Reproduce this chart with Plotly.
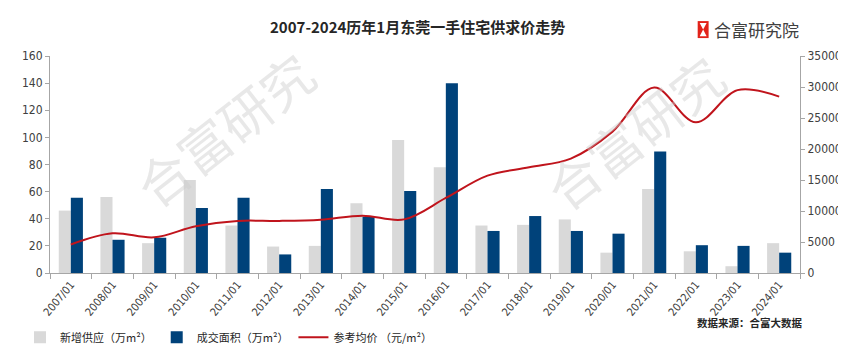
import plotly.graph_objects as go

years = ["2007/01", "2008/01", "2009/01", "2010/01", "2011/01", "2012/01", "2013/01", "2014/01", "2015/01",
         "2016/01", "2017/01", "2018/01", "2019/01", "2020/01", "2021/01", "2022/01", "2023/01", "2024/01"]
supply = [46, 56, 22, 68.5, 35, 19.5, 20, 51.5, 98, 78, 35, 35.5, 39.5, 15, 62, 16, 5, 22]
deal = [55.5, 24.5, 26, 48, 55.5, 13.7, 62, 41.5, 60.5, 140, 31, 42, 31, 29, 89.5, 20.5, 20, 15]
price = [4600, 6400, 5750, 7550, 8400, 8400, 8600, 9250, 8650, 12100, 15700, 17050, 18450, 22800, 29900,
         24300, 29500, 28450]

FONT = "Noto Sans CJK SC, Noto Sans, sans-serif"
NUMFONT = "DejaVu Sans Condensed, sans-serif"
AX = "#a6a6a6"

fig = go.Figure()
fig.add_trace(go.Bar(x=years, y=supply, name="新增供应（万m²）", marker_color="#d9d9d9",
                     marker_line_width=0))
fig.add_trace(go.Bar(x=years, y=deal, name="成交面积（万m²）", marker_color="#00427a",
                     marker_line_width=0))
fig.add_trace(go.Scatter(x=years, y=price, name="参考均价 （元/m²）", yaxis="y2", mode="lines",
                         line=dict(color="#c0141c", width=2, shape="spline", smoothing=1.0)))

fig.update_layout(
    width=846, height=356,
    margin=dict(l=40, r=51, t=48, b=78),
    paper_bgcolor="white", plot_bgcolor="white",
    font=dict(family=FONT, size=11, color="#404040"),
    barmode="group", bargap=0.42, bargroupgap=0,
    showlegend=True,
    legend=dict(orientation="h", x=-0.04, xanchor="left", y=-0.296, yanchor="middle",
                font=dict(size=11, color="#262626"), itemwidth=30, tracegroupgap=0,
                bgcolor="rgba(0,0,0,0)"),
    xaxis=dict(type="category", showgrid=False, showline=True, linecolor=AX, linewidth=1,
               ticks="outside", tickson="boundaries", ticklen=5, tickcolor=AX,
               tickangle=-50, tickfont=dict(size=11, color="#404040", family=NUMFONT)),
    yaxis=dict(range=[0, 160], dtick=20, showgrid=False, showline=True, linecolor=AX,
               ticks="outside", ticklen=4, tickcolor=AX, zeroline=False,
               tickfont=dict(size=12, color="#404040", family=NUMFONT)),
    yaxis2=dict(range=[0, 35000], dtick=5000, tickformat="d", overlaying="y", side="right", showgrid=False,
                showline=True, linecolor=AX, ticks="outside", ticklen=4, tickcolor=AX, zeroline=False,
                tickfont=dict(size=12, color="#404040", family=NUMFONT)),
)

annotations = [
    dict(text="<b>2007-2024历年1月东莞一手住宅供求价走势</b>", xref="paper", yref="paper",
         x=0.49, y=1.135, xanchor="center", yanchor="middle", showarrow=False,
         font=dict(size=15, color="#262626", family=FONT)),
    dict(text="合富研究院", xref="paper", yref="paper", x=(706 - 40) / 755, y=(278 - 20) / 230,
         xanchor="left", yanchor="middle", showarrow=False,
         font=dict(size=17, color="#404040", family=FONT)),
    dict(text="<b>数据来源：合富大数据</b>", xref="paper", yref="paper", x=(745 - 40) / 755,
         y=(278 - 330) / 230, xanchor="center", yanchor="middle", showarrow=False,
         font=dict(size=10.5, color="#262626", family=FONT)),
    dict(text="合富研究", xref="paper", yref="paper", x=(215 - 40) / 755, y=(278 - 125) / 230,
         xanchor="center", yanchor="middle", showarrow=False, textangle=-38,
         font=dict(size=52, color="rgba(205,205,205,0.45)", family=FONT)),
    dict(text="合富研究", xref="paper", yref="paper", x=(628 - 40) / 755, y=(278 - 128) / 230,
         xanchor="center", yanchor="middle", showarrow=False, textangle=-38,
         font=dict(size=52, color="rgba(205,205,205,0.45)", family=FONT)),
]
fig.update_layout(annotations=annotations)

# logo icon
def px(x):
    return (x - 40) / 755

def py(y):
    return (278 - y) / 230

shapes = [
    dict(type="rect", xref="paper", yref="paper", x0=px(692), x1=px(703), y0=py(29), y1=py(11),
         fillcolor="#e2231a", line_width=0),
    dict(type="path", xref="paper", yref="paper",
         path=f"M {px(694)} {py(13)} L {px(701)} {py(13)} L {px(697.5)} {py(20)} Z",
         fillcolor="white", line_width=0),
    dict(type="path", xref="paper", yref="paper",
         path=f"M {px(694)} {py(27)} L {px(701)} {py(27)} L {px(697.5)} {py(20)} Z",
         fillcolor="white", line_width=0),
]
fig.update_layout(shapes=shapes)

fig.write_html("out.html")
